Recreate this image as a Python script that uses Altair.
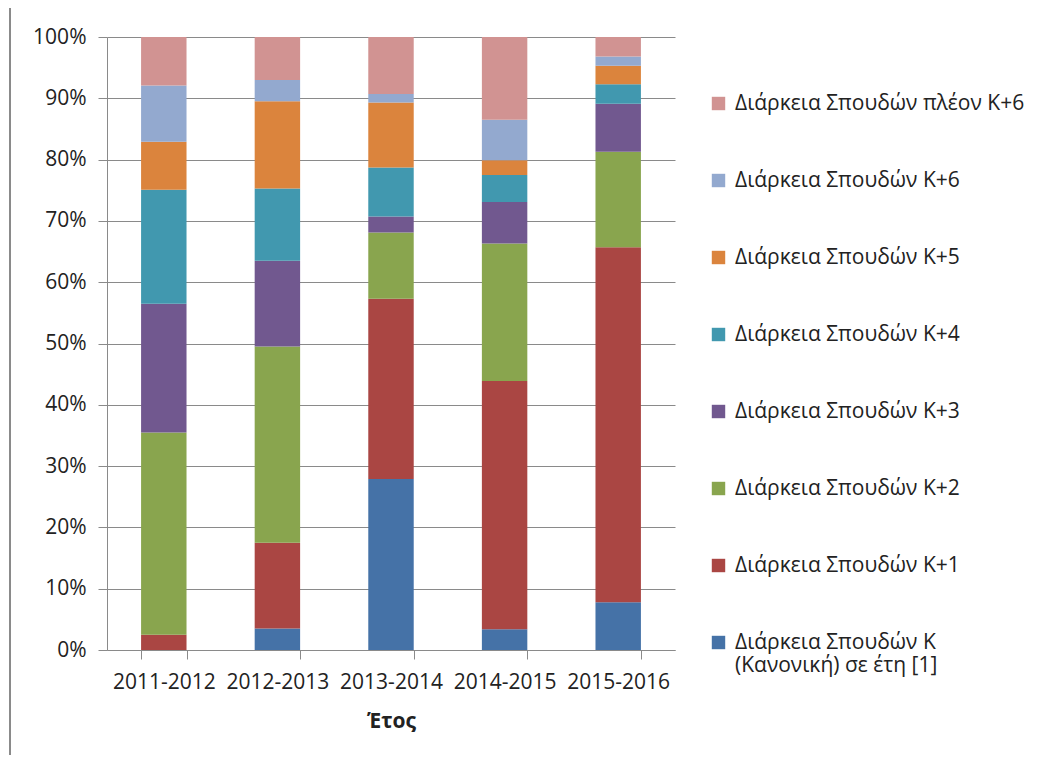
import altair as alt
import pandas as pd

years = ["2011-2012", "2012-2013", "2013-2014", "2014-2015", "2015-2016"]

series = [
    "Διάρκεια Σπουδών Κ (Κανονική) σε έτη [1]",
    "Διάρκεια Σπουδών Κ+1",
    "Διάρκεια Σπουδών Κ+2",
    "Διάρκεια Σπουδών Κ+3",
    "Διάρκεια Σπουδών Κ+4",
    "Διάρκεια Σπουδών Κ+5",
    "Διάρκεια Σπουδών Κ+6",
    "Διάρκεια Σπουδών πλέον Κ+6",
]
colors = ["#4572A7", "#AA4643", "#89A54E", "#71588F", "#4198AF", "#DB843D", "#93A9CF", "#D19392"]

k = [0.0, 3.5, 27.9, 3.4, 7.8]
k1 = [2.5, 14.0, 29.4, 40.5, 57.9]
k2 = [33.0, 32.0, 10.8, 22.4, 15.6]
k3 = [21.0, 14.0, 2.6, 6.8, 7.8]
k4 = [18.6, 11.8, 8.0, 4.4, 3.2]
k5 = [7.8, 14.2, 10.6, 2.4, 3.0]
k6 = [9.2, 3.5, 1.4, 6.6, 1.5]
k6plus = [7.9, 7.0, 9.3, 13.5, 3.2]

values = [k, k1, k2, k3, k4, k5, k6, k6plus]

rows = []
for si, (name, vals) in enumerate(zip(series, values)):
    for y, v in zip(years, vals):
        rows.append({"year": y, "series": name, "idx": si, "value": v})
df = pd.DataFrame(rows)

FONT = "Open Sans"
label_expr = (
    "datum.label == '" + series[0] + "' ? ['Διάρκεια Σπουδών Κ', '(Κανονική) σε έτη [1]'] : datum.label"
)

# taller line spacing for the two-line legend label, if the schema allows it
legend_extra = {}
try:
    alt.LegendConfig(labelLineHeight=30).to_dict(validate=True)
    legend_extra = {"labelLineHeight": 30}
except Exception:
    legend_extra = {}

bars = alt.Chart(df).mark_bar().encode(
    x=alt.X(
        "year:N",
        title="Έτος",
        scale=alt.Scale(paddingInner=0.6, paddingOuter=0.3),
        axis=alt.Axis(
            labelAngle=0,
            tickBand="extent",
            tickSize=9,
            tickColor="#8a8a8a",
            domainColor="#8a8a8a",
            labelFontSize=21,
            labelPadding=12,
            labelColor="#222222",
            titleFontSize=21,
            titleFontWeight="bold",
            titleColor="#222222",
            titlePadding=18,
            grid=False,
        ),
    ),
    y=alt.Y(
        "value:Q",
        stack="normalize",
        title=None,
        scale=alt.Scale(domain=[0, 1], nice=False),
        axis=alt.Axis(
            format=".0%",
            values=[i / 10 for i in range(11)],
            tickSize=9,
            tickColor="#8a8a8a",
            domainColor="#8a8a8a",
            gridColor="#8a8a8a",
            gridWidth=1,
            labelFontSize=21,
            labelPadding=12,
            labelColor="#222222",
        ),
    ),
    color=alt.Color(
        "series:N",
        scale=alt.Scale(domain=series[::-1], range=colors[::-1]),
        legend=alt.Legend(
            title=None,
            orient="none",
            legendX=601,
            legendY=56,
            symbolType="square",
            symbolSize=180,
            symbolStrokeWidth=0,
            labelFontSize=21,
            labelLimit=400,
            labelColor="#222222",
            labelExpr=label_expr,
            rowPadding=55,
            labelOffset=6,
        ),
    ),
    order=alt.Order("idx:Q", sort="ascending"),
)

border = alt.Chart(df).mark_rule(color="#8a8a8a", strokeWidth=1).encode(
    x=alt.value(-97), y=alt.value(-37), y2=alt.value(730)
)

chart = alt.layer(bars, border).properties(
    width=568,
    height=613,
    autosize=alt.AutoSizeParams(type="none"),
    padding={"left": 99, "top": 29, "right": 371, "bottom": 105},
).configure(
    font=FONT,
).configure_view(stroke=None)

if legend_extra:
    chart = chart.configure_legend(**legend_extra)

chart.save("out.html", embed_options={"renderer": "svg", "actions": False})
